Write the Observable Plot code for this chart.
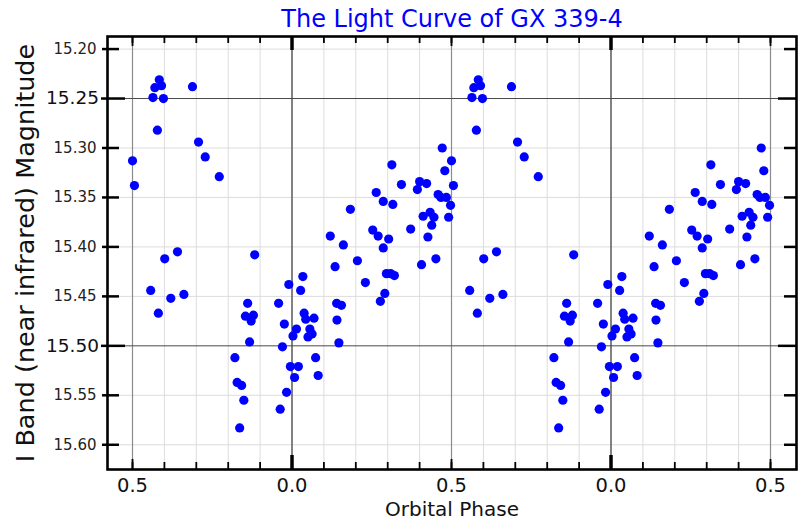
<!DOCTYPE html>
<html>
<head>
<meta charset="utf-8">
<script src="https://cdn.jsdelivr.net/npm/d3@7"></script>
<script src="https://cdn.jsdelivr.net/npm/@observablehq/plot@0.6"></script>
<style>
  html, body { margin: 0; padding: 0; background: #fff; }
  svg { display: block; }
</style>
</head>
<body>
<div id="chart"></div>
<script>
// ---- data ----
const title = "The Light Curve of GX 339-4";
const xLabel = "Orbital Phase";
const yLabel = "I Band (near infrared) Magnitude";

const phase = [
  -0.416, -0.430, -0.409, -0.436, -0.403, -0.312, -0.422, -0.293, -0.500, -0.272,
  -0.494, -0.228, -0.359, -0.399, -0.117, -0.443, -0.380, -0.339, -0.419, -0.139,
  -0.146, -0.121, -0.128, -0.133, -0.179, -0.172, -0.158, -0.151, -0.164, -0.042,
  -0.010, -0.024, -0.030, -0.005, 0.020, 0.008, -0.017, -0.037, 0.003, 0.014,
  0.034, 0.027, 0.038, 0.043, 0.069, 0.056, 0.063, 0.050, 0.074, 0.082,
  0.135, 0.205, 0.140, 0.155, 0.141, 0.147, 0.120, 0.161, 0.183, 0.230,
  0.291, 0.277, 0.253, 0.270, 0.286, 0.303, 0.296, 0.309, 0.321, 0.264,
  0.286, 0.316, 0.313, 0.343, 0.400, 0.422, 0.393, 0.458, 0.467, 0.484,
  0.497, 0.471, 0.479, 0.411, 0.433, 0.445, 0.491, 0.438, 0.372, 0.426,
  0.451, 0.406
];
const magnitude = [
  15.231, 15.239, 15.237, 15.249, 15.250, 15.238, 15.282, 15.294, 15.313, 15.309,
  15.338, 15.329, 15.405, 15.412, 15.408, 15.444, 15.452, 15.448, 15.467, 15.457,
  15.470, 15.469, 15.475, 15.496, 15.512, 15.537, 15.540, 15.555, 15.583, 15.457,
  15.438, 15.478, 15.501, 15.521, 15.521, 15.532, 15.547, 15.564, 15.490, 15.483,
  15.430, 15.444, 15.467, 15.473, 15.472, 15.483, 15.488, 15.491, 15.512, 15.530,
  15.420, 15.414, 15.457, 15.459, 15.474, 15.497, 15.389, 15.398, 15.362, 15.436,
  15.447, 15.455, 15.383, 15.389, 15.401, 15.392, 15.427, 15.427, 15.429, 15.345,
  15.354, 15.357, 15.317, 15.337, 15.334, 15.336, 15.342, 15.347, 15.350, 15.350,
  15.358, 15.300, 15.323, 15.369, 15.365, 15.370, 15.370, 15.378, 15.382, 15.390,
  15.412, 15.418
];

const xTickValues = [-0.5, 0, 0.5, 1, 1.5];
const xTickLabels = ["0.5", "0.0", "0.5", "0.0", "0.5"];
const xHalfTicks = [-0.5, 0.5, 1.5];
const xWholeTicks = [0, 1];
const yTickValues = [15.20, 15.25, 15.30, 15.35, 15.40, 15.45, 15.50, 15.55, 15.60];
const yMajorTicks = [15.25, 15.50];

// ---- build table: the light curve is shown over two cycles ----
const points = phase.map((p, i) => ({phase: p, mag: magnitude[i]}));
const data = points.concat(points.map(d => ({phase: d.phase + 1, mag: d.mag})));

const xMinorTicks = d3.range(-5, 16).map(i => i / 10);
const yMinorTicks = yTickValues.filter(v => !yMajorTicks.includes(v));

const W = 800, H = 520;
const mL = 107, mR = 4, mT = 36, mB = 51;
const FW = W - mL - mR, FH = H - mT - mB;
const font = "DejaVu Sans, Verdana, sans-serif";

const chart = Plot.plot({
  width: W,
  height: H,
  marginLeft: mL,
  marginRight: mR,
  marginTop: mT,
  marginBottom: mB,
  style: {fontFamily: font, background: "#fff"},
  x: {domain: [-0.5784, 1.5815], axis: null},
  y: {domain: [15.1873, 15.6250], reverse: true, axis: null},
  marks: [
    // light grid
    Plot.ruleX(xMinorTicks, {x: d => d, stroke: "#dcdcdc", strokeWidth: 1}),
    Plot.ruleY(yMinorTicks, {y: d => d, stroke: "#dcdcdc", strokeWidth: 1}),
    // darker grid at half cycles
    Plot.ruleX(xHalfTicks, {x: d => d, stroke: "#8c8c8c", strokeWidth: 1.2}),
    Plot.ruleX(xWholeTicks, {x: d => d, stroke: "#3a3a3a", strokeWidth: 1.2}),
    Plot.ruleY(yMajorTicks, {y: d => d, stroke: "#4a4a4a", strokeWidth: 1}),
    // data
    Plot.dot(data, {x: "phase", y: "mag", r: 4.6, fill: "#0000ff", stroke: "none"}),
    // frame
    Plot.frame({stroke: "black", strokeWidth: 2.6}),
    // left ticks
    Plot.ruleY(yMinorTicks, {y: d => d, insetLeft: -5, insetRight: FW - 12, stroke: "black", strokeWidth: 2.5}),
    Plot.ruleY(yMajorTicks, {y: d => d, insetLeft: -6, insetRight: FW - 18, stroke: "black", strokeWidth: 2.5}),
    // right ticks
    Plot.ruleY(yMinorTicks, {y: d => d, insetLeft: FW - 12, stroke: "black", strokeWidth: 2.5}),
    Plot.ruleY(yMajorTicks, {y: d => d, insetLeft: FW - 18, stroke: "black", strokeWidth: 2.5}),
    // top & bottom ticks
    Plot.ruleX(xMinorTicks, {x: d => d, insetBottom: FH - 7, stroke: "black", strokeWidth: 1.8}),
    Plot.ruleX(xMinorTicks, {x: d => d, insetTop: FH - 7, stroke: "black", strokeWidth: 1.8}),
    Plot.ruleX(xHalfTicks, {x: d => d, insetBottom: FH - 10, stroke: "black", strokeWidth: 1.8}),
    Plot.ruleX(xHalfTicks, {x: d => d, insetTop: FH - 10, stroke: "black", strokeWidth: 1.8}),
    Plot.ruleX(xWholeTicks, {x: d => d, insetBottom: FH - 14, stroke: "black", strokeWidth: 3.5}),
    Plot.ruleX(xWholeTicks, {x: d => d, insetTop: FH - 14, stroke: "black", strokeWidth: 3.5}),
    // y tick labels
    Plot.text(yMinorTicks, {y: d => d, text: d => d.toFixed(2), frameAnchor: "left", textAnchor: "end", dx: -11, fontSize: 15, fill: "#222"}),
    Plot.text(yMajorTicks, {y: d => d, text: d => d.toFixed(2), frameAnchor: "left", textAnchor: "end", dx: -8.5, fontSize: 18.5, fill: "#111"}),
    // x tick labels
    Plot.text(xTickValues, {x: d => d, text: (d, i) => xTickLabels[i], frameAnchor: "bottom", lineAnchor: "bottom", dy: 22, fontSize: 19.5, fill: "#111"}),
    // axis titles
    Plot.text([xLabel], {frameAnchor: "bottom", lineAnchor: "bottom", dy: 46, fontSize: 20, fill: "#111"}),
    Plot.text([yLabel], {frameAnchor: "left", textAnchor: "middle", lineAnchor: "bottom", rotate: -90, dx: -74, fontSize: 25.5, fill: "#111"}),
    // title
    Plot.text([title], {frameAnchor: "top", lineAnchor: "bottom", dy: -10, fontSize: 24, fill: "#0000ff"})
  ]
});

document.getElementById("chart").appendChild(chart);
</script>
</body>
</html>
